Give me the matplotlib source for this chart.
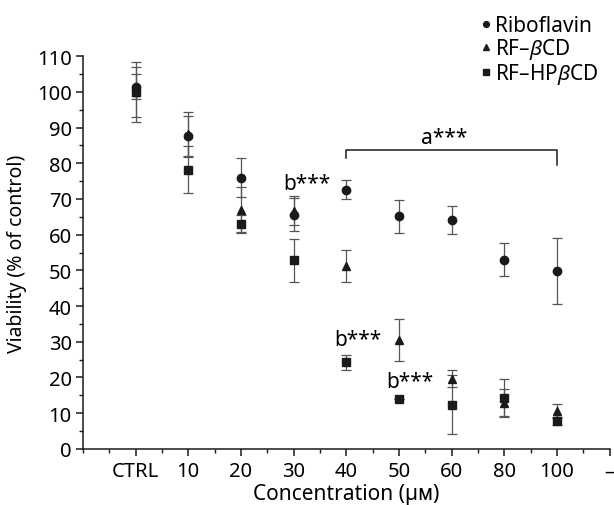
import numpy as np
import matplotlib
matplotlib.use("Agg")
import matplotlib.pyplot as plt
from matplotlib.ticker import MultipleLocator

plt.rcParams['font.family'] = ['Noto Sans', 'DejaVu Sans']
plt.rcParams['mathtext.fontset'] = 'custom'
plt.rcParams['mathtext.it'] = 'Noto Sans:italic'

# data
categories = ["CTRL", "10", "20", "30", "40", "50", "60", "80", "100"]
tick_labels = categories + ["–"]

riboflavin = [101.5, 87.5, 76.0, 65.6, 72.6, 65.1, 64.0, 53.0, 49.9]
riboflavin_err = [3.5, 5.7, 5.4, 4.6, 2.6, 4.7, 3.9, 4.6, 9.2]

rf_bcd = [100.0, 88.3, 67.0, 66.7, 51.2, 30.5, 19.6, 12.8, 10.6]
rf_bcd_err = [8.5, 6.2, 6.3, 4.0, 4.4, 5.8, 2.4, 4.0, 2.0]

rf_hpbcd = [100.0, 78.2, 63.0, 52.8, 24.2, 13.9, 12.4, 14.3, 7.8]
rf_hpbcd_err = [7.0, 6.5, 2.5, 6.0, 2.0, 0.0, 8.3, 5.2, 1.0]

series = [
    ("Riboflavin", riboflavin, riboflavin_err, "o", 6.0),
    ("RF–$\\beta$CD", rf_bcd, rf_bcd_err, "^", 6.2),
    ("RF–HP$\\beta$CD", rf_hpbcd, rf_hpbcd_err, "s", 5.2),
]

x = np.arange(1, len(categories) + 1)

fig = plt.figure(figsize=(6.14, 5.06), dpi=100)
ax = fig.add_axes([0.135, 0.111, 0.858, 0.776])

handles = []
for name, vals, err, mk, ms in series:
    ax.errorbar(x, vals, yerr=err, fmt="none", ecolor="#555555",
                elinewidth=0.9, capsize=3.3, capthick=0.9, zorder=2)
    h, = ax.plot(x, vals, linestyle="none", marker=mk, ms=ms,
                 color="#1a1a1a", label=name, zorder=3)
    handles.append(h)

# significance marks
ax.plot([5, 5, 9, 9], [81.5, 83.6, 83.6, 79.4], color="#1a1a1a", lw=1.1)
ax.text(6.85, 84.3, "a***", ha="center", va="bottom", fontsize=15)
ax.text(3.8, 74.4, "b***", ha="left", va="center", fontsize=15)
ax.text(4.78, 30.5, "b***", ha="left", va="center", fontsize=15)
ax.text(5.76, 19.0, "b***", ha="left", va="center", fontsize=15)

ax.set_xlim(0, 10)
ax.set_ylim(0, 110)
ax.set_xticks(np.arange(1, 11))
ax.set_xticklabels(tick_labels)
ax.xaxis.set_minor_locator(MultipleLocator(0.5))
ax.yaxis.set_major_locator(MultipleLocator(10))
ax.yaxis.set_minor_locator(MultipleLocator(5))
ax.tick_params(which="major", direction="out", length=5, width=1.1, labelsize=14.5,
               color="#1a1a1a", pad=3)
ax.tick_params(which="minor", direction="out", length=3, width=1.0, color="#1a1a1a")
ax.tick_params(axis="x", which="major", pad=4)
for s in ["top", "right"]:
    ax.spines[s].set_visible(False)
for s in ["left", "bottom"]:
    ax.spines[s].set_linewidth(1.1)
    ax.spines[s].set_color("#1a1a1a")

ax.set_xlabel("Concentration (µᴍ)", fontsize=15, labelpad=1)
ax.set_ylabel("Viability (% of control)", fontsize=14, labelpad=7)

fig.legend(handles=handles, loc="upper left", bbox_to_anchor=(0.772, 0.984),
           frameon=False, fontsize=15, handlelength=0.35, handletextpad=0.25,
           labelspacing=0.0, markerscale=0.7, borderaxespad=0)

fig.savefig("out.png", dpi=100)
